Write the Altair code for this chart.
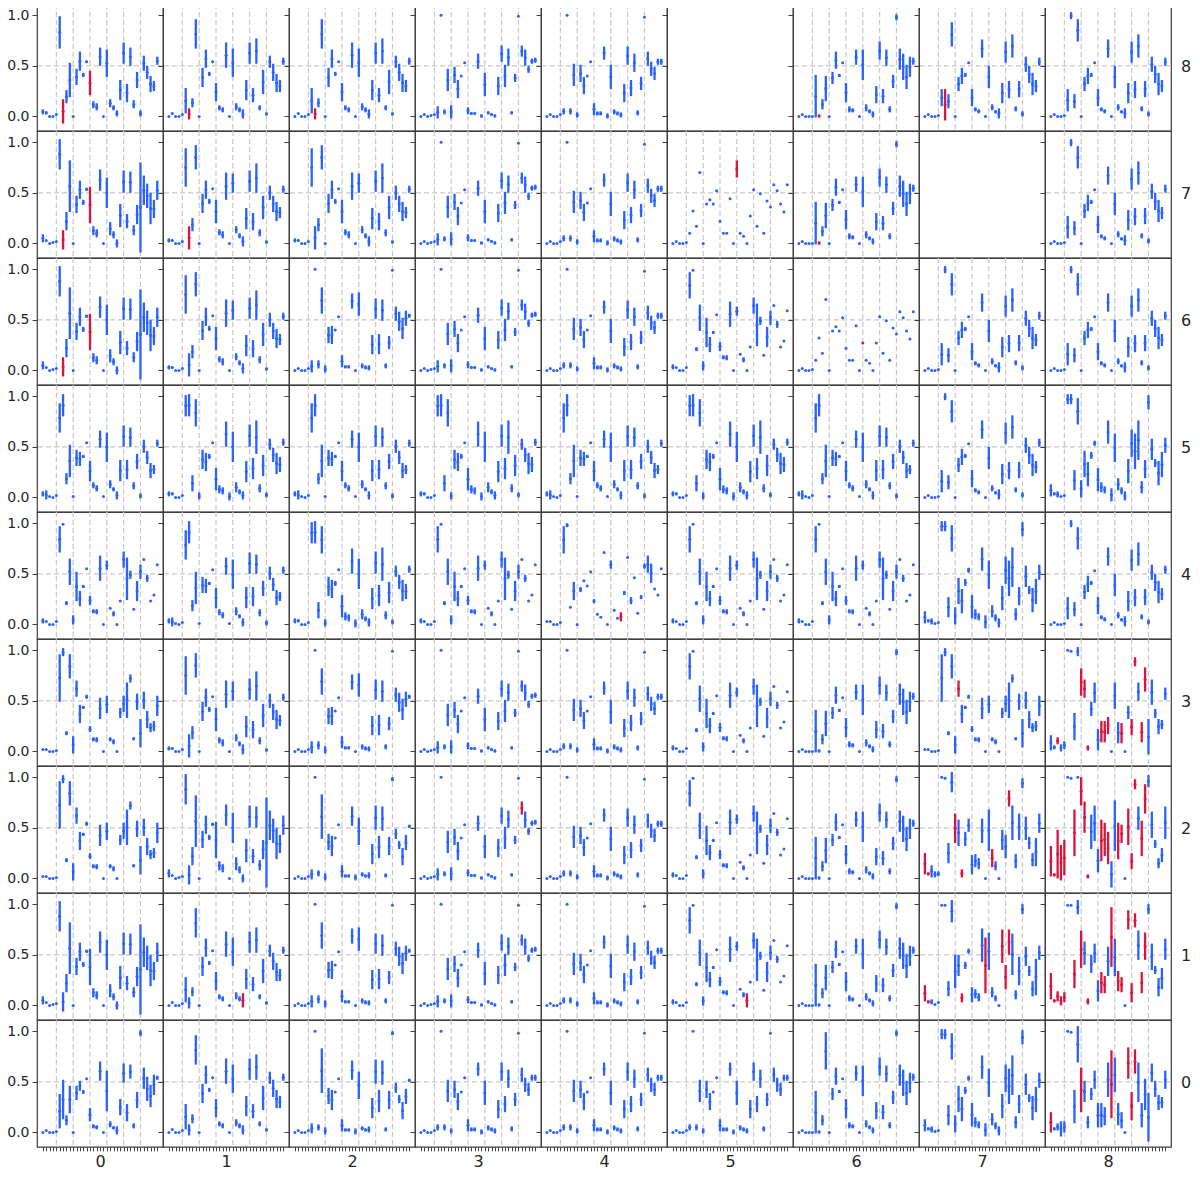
import altair as alt
import pandas as pd

# ---- values (35 positions per panel) ----
# token: "v" = single point, "a:b" = range, prefix "r" = red range
P00 = "0 .02 0 0 .01 .04:.38 .13:.52 .07:.17 .19:.46 0 .32:.46 .41:.51 .38:.42 .53 .11:.24 .04:.08 .03:.07 .51:.70 0 .21:.61 .05:.11 .03:.06 -.02:.06 .17:.33 .49:.68 .11:.28 .53:.67 .04:.09 .24:.40 .95:1.01 .43:.64 .31:.55 .25:.47 .37:.57 .52:.56"
P80 = ".02:.07 .02:.05 0 0 .02 .67:.99 r-.07:.17 .13:.26 .19:.53 0 .31:.47 .45:.64 .39:.43 .53:.55 r.21:.45 .08:.15 .06:.13 .50:.68 0 .39:.66 .09:.17 .06:.11 0:.06 .16:.36 .52:.73 .14:.32 .50:.68 .08:.16 .28:.44 0:.06 .45:.60 .37:.50 .24:.40 .25:.35 .51:.59"
P81 = "0 .03 0 0 .02 .03:.28 r-.03:.08 .09:.18 .67:.96 0 .29:.48 .48:.66 .40:.44 .54 .15:.33 .06:.11 .04:.09 .48:.73 0 .39:.67 .06:.13 .04:.09 -.02:.07 .16:.36 .52:.73 .14:.28 .52:.77 .06:.11 .22:.46 .01:.04 .48:.60 .35:.52 .24:.42 .24:.36 .51:.58"
P70 = ".01:.09 .03 0 .01 .02 .73:1.03 r-.06:.13 .13:.31 .31:.82 0 .30:.47 .44:.62 .38:.43 .52:.55 r.20:.56 .08:.17 .06:.14 .52:.73 0 .35:.65 .08:.21 .05:.12 -.04:.04 .16:.39 .50:.72 .15:.29 .50:.71 .08:.18 .19:.38 -.09:.80 .38:.67 .35:.59 .19:.50 .25:.43 .43:.62"
P71 = ".01:.05 .02:.04 0 0 .02 .56:.94 r-.06:.17 .12:.25 .73:.97 0 .30:.49 .44:.62 .39:.44 .54 .20:.43 .08:.14 .05:.12 .43:.70 0 .50:.69 .10:.17 .05:.10 -.03:.07 .14:.35 .51:.72 .13:.30 .50:.79 .07:.14 .24:.47 0:.03 .43:.57 .31:.47 .22:.41 .25:.36 .50:.57"
P17 = "r.04:.20 r.02:.05 .01:.06 .01 .03 .99 .99 .09:.24 .82:1.04 .17:.50 .29:.50 r.03:.12 .36:.43 .51:.56 .03:.18 .07:.16 .04:.12 .43:.76 r.12:.67 .35:.72 .08:.18 .04:.10 0 r.42:.75 r.16:.40 r.50:.75 .30:.71 .06:.15 .20:.48 .90:1.0 .39:.58 .29:.39 .09:.24 .10:.46 .45:.59"
P18 = "r.06:.32 r.03:.06 r.04:.14 r0:.09 r.03:.13 .99 .99 r.17:.45 .90:1.04 r.37:.74 .40:.63 r.01:.07 .32:.50 .42:.61 .04:.25 r.12:.33 r.12:.29 .29:.58 r.38:.97 .29:.66 r.14:.34 r.13:.28 0 r.75:.94 r.03:.22 r.77:.91 .45:.74 r.12:.33 r.45:.72 .90:1.0 .35:.61 .31:.39 .09:.27 .16:.37 .45:.66"
P07 = ".01:.13 .02:.05 0:.06 .01 .02 .92:1.02 .92:1.02 .07:.27 .72:.98 0:.17 .20:.46 .11:.35 .38:.45 .51:.56 .06:.29 .05:.15 .04:.11 .53:.76 -.04:.09 .35:.63 .07:.19 .03:.10 -.03:.06 .14:.38 .40:.67 .28:.63 .37:.76 .04:.16 .19:.37 .87:1.01 .37:.58 .30:.38 .12:.36 .20:.45 .44:.59"
P08 = "r0:.20 .02:.05 .02:.09 -.04:.11 0:.11 1.0 .99 .09:.42 .69:1.05 r.20:.64 .30:.51 .04:.16 .32:.44 .43:.61 .05:.29 .05:.29 .07:.25 .35:.69 r.14:.81 .40:.74 .07:.29 .04:.20 0 r.53:.84 r.12:.40 r.58:.82 .30:.69 .05:.29 .22:.53 -.09:.39 .50:.68 .35:.51 .22:.37 .24:.35 .43:.61"
P37 = ".02 .02 0 0 .01 .49:.96 .94:1.02 .16:.20 .72:.96 -.02:.15 r.54:.70 .28:.46 .42:.45 .52:.56 .19:.25 .10:.14 .09:.14 .32:.53 0 .38:.55 .10:.14 .07:.12 0 .33:.43 .39:.55 .33:.68 .68:.76 .11:.14 .41:.57 .04:.32 .42:.59 .23:.40 .19:.28 .20:.30 .35:.55"
P38 = ".01:.16 .02:.06 r.07:.14 0:.07 .02:.10 1.0 .99 .11:.38 .94:1.03 r.55:.82 r.53:.71 r.01:.06 .35:.49 .48:.68 .01:.22 r.09:.30 r.09:.30 r.17:.34 0 .42:.68 .08:.29 r.08:.28 0 .32:.45 r.16:.32 r.84:.93 .50:.68 r.09:.29 r.59:.83 -.03:.32 .46:.71 .33:.42 .17:.32 .22:.31 .51:.63"
P27 = "r.04:.25 r.03:.06 .01:.13 .01:.07 .02:.07 1.0 .99 .15:.35 .85:1.05 r.35:.64 .32:.58 r.01:.09 .32:.46 .46:.59 .04:.23 .11:.24 .09:.20 .35:.59 0 .27:.68 r.11:.29 .08:.17 0 .28:.48 .20:.43 r.71:.87 .38:.72 .10:.24 .38:.64 .89:.99 .38:.61 .29:.41 .12:.25 .12:.40 .45:.64"
P28 = "r.02:.32 r.02:.05 r0:.48 r-.02:.33 r.03:.38 1.0 .99 r.22:.68 1.0 r.72:1.0 r.45:.76 r0:.04 .29:.63 .37:.72 .06:.29 r.17:.58 r.22:.55 r.14:.46 -.09:.17 .27:.77 r.19:.55 r.35:.53 0 r.33:.69 r.09:.25 r.88:.98 .48:.71 r.22:.57 r.64:.93 .90:1.02 .40:.66 .30:.38 .10:.20 .16:.30 .39:.71"
P54 = ".01:.06 -.02:.07 .01 0 .02 .64:.93 .80:1.02 .13:.24 .20:.52 .01 .31:.47 .31:.45 .39:.42 .54 .16:.36 .09:.15 .06:.12 .49:.66 .01 .35:.64 .09:.17 .06:.10 -.02:.06 .16:.37 .50:.71 .18:.37 .50:.69 .08:.15 .28:.43 -.01:.04 .44:.57 .33:.46 .19:.34 .23:.32 .50:.57"
P55 = ".01:.06 .02:.05 0 0 .02 .80:1.01 .80:1.02 .06:.22 .70:.97 -.02:.05 .28:.47 .26:.44 .38:.43 .54 .07:.29 .04:.12 .03:.10 .50:.75 -.03:.05 .35:.65 .05:.15 .03:.08 -.02:.06 .15:.36 .50:.72 .18:.39 .43:.76 .05:.13 .21:.42 0:.05 .47:.58 .35:.49 .23:.44 .25:.40 .51:.58"
P44 = ".03 .03 0 0 .02 .70:.97 .96:1.0 .17 .24:.42 0 .32:.37 .43 .38 .52 .21:.25 .10 .07 .71 0 .55:.63 .14 .06 r.03:.12 .29:.33 .66 .20:.27 .46 .11 .25:.29 .55:.60 .51:.68 .41:.60 .35 .29 .55"
P45 = ".01:.06 .03 0 0 .03 .71:.97 .99 .19:.23 .39:.65 0:.09 .23:.52 .18:.33 .36:.39 .55 .19:.28 .11:.15 .10:.15 .43:.68 0 .54:.63 .16 .08:.13 0 .23 .56:.72 .24:.66 .45:.53 .15 .23:.43 .45:.59 .64 .42:.49 .23 .29 .59"
P12 = "0 .02 0 0 .02 -.02:.10 1.0 .02:.10 .56:.82 -.02:.05 .27:.43 .26:.44 .40 .53 .03:.15 .02:.05 .02:.05 .61:.76 0 .54:.77 .02:.07 .01:.05 0:.05 .16:.35 .51:.71 .16:.36 .49:.70 .02:.07 .21:.34 .99 .49:.63 .39:.58 .31:.52 .44:.59 .52:.56"
P13 = "0 .02 0 .01 .02 -.02:.10 1.0 .02:.07 .25:.47 -.02:.11 .33:.49 .18:.36 .40 .53 .02:.09 .02:.04 .02:.04 .47:.62 -.01:.02 .20:.43 .02:.05 .01:.03 -.01:.02 .21:.39 .54:.70 .29:.51 .50:.67 .02:.05 .34:.42 .99 .59:.70 .50:.66 .43:.50 .52:.57 .53:.58"
P02 = "0 .02 0 0 .02 -.01:.09 1.0 .02:.08 .39:.83 -.02:.05 .28:.44 .22:.42 .40 .53 .01:.13 .01:.04 .01:.04 .52:.71 -.02:.04 .33:.60 .02:.06 .01:.04 0:.06 .14:.34 .48:.72 .20:.42 .47:.71 .01:.05 .23:.41 .96:1.0 .39:.49 .29:.37 .13:.30 .28:.43 .50:.53"
P03 = "0 .02 0 0 .02 .02:.08 1.0 .02:.08 .30:.52 -.01:.04 .34:.51 .22:.39 .40 .54 .01:.13 .01:.05 .01:.05 .56:.69 -.02:.03 .27:.51 .02:.07 .01:.05 -.01:.04 .14:.32 .51:.69 .20:.36 .44:.62 .01:.06 .26:.39 .98 .50:.64 .40:.54 .36:.49 .51:.57 .51:.57"
P76 = "0 .02 0 0 0 -.01:.41 r-.01:.02 .07:.17 .15:.40 0 .32:.44 .47:.64 .39:.42 .53 .14:.33 .04:.10 .04:.08 .51:.66 0 .36:.66 .05:.12 .03:.07 -.01:.05 .13:.30 .56:.74 .13:.27 .50:.66 .04:.10 .28:.41 .95:1.01 .46:.67 .36:.62 .27:.51 .39:.59 .51:.58"
P66 = "0 .02 0 0 .01 .10 .32 .17 .70 0 .39 .43 .39 .52 .22 .10 .10 .44 0 r.27 .10 .07 0 .27 .53 .17 .49 .10 .42 .36 .58 .52 .39 .31 .58"
P67 = "0 .02 0 0 .01 .05:.27 .96:1.03 .08:.22 .74:.96 0 .25:.39 .32:.48 .39:.43 .53 .10:.27 .05:.09 .03:.07 .58:.76 0 .28:.50 .06:.12 .03:.06 -.02:.08 .13:.33 .53:.74 .18:.35 .58:.81 .05:.10 .19:.35 0:.05 .44:.59 .33:.50 .21:.43 .24:.36 .50:.58"

PANELS = {
    (0, 0): P00, (8, 0): P80, (8, 1): P81, (7, 0): P70, (7, 1): P71,
    (1, 7): P17, (1, 8): P18, (0, 7): P07, (0, 8): P08,
    (3, 7): P37, (3, 8): P38, (2, 7): P27, (2, 8): P28,
    (5, 4): P54, (5, 5): P55, (4, 4): P44, (4, 5): P45,
    (1, 2): P12, (1, 3): P13, (0, 2): P02, (0, 3): P03,
    (7, 6): P76, (6, 6): P66, (6, 7): P67,
}
# panels not read one by one: closest read panel
SOURCE = {
    (8, 2): P81, (8, 3): P13, (8, 4): P03, (8, 6): P76, (8, 7): P67, (8, 8): P67,
    (7, 2): P71, (7, 3): P13, (7, 4): P03, (7, 5): P66, (7, 8): P67,
    (6, 0): P70, (6, 1): P71, (6, 2): P12, (6, 3): P13, (6, 4): P03, (6, 5): P45, (6, 8): P67,
    (5, 0): P54, (5, 1): P55, (5, 2): P54, (5, 3): P55, (5, 6): P54, (5, 7): P67, (5, 8): P07,
    (4, 0): P45, (4, 1): P54, (4, 2): P55, (4, 3): P45, (4, 6): P45, (4, 7): P07, (4, 8): P67,
    (3, 0): P37, (3, 1): P71, (3, 2): P12, (3, 3): P13, (3, 4): P03, (3, 5): P45, (3, 6): P76,
    (2, 0): P37, (2, 1): P70, (2, 2): P02, (2, 3): P13, (2, 4): P03, (2, 5): P45, (2, 6): P76,
    (1, 0): P70, (1, 1): P81, (1, 4): P03, (1, 5): P45, (1, 6): P76,
    (0, 1): P81, (0, 4): P03, (0, 5): P03, (0, 6): P76,
}
# "b" = same range drawn blue
OVERRIDE = {
    (8, 7): {5: ".10:.27", 6: "r-.04:.27", 8: ".69:.93"},
    (7, 2): {6: "b"}, (7, 5): {19: "r.65:.82"},
    (6, 1): {6: "b"}, (3, 0): {10: "b"}, (3, 1): {6: "b"}, (3, 6): {6: "b"},
    (2, 0): {10: "b"}, (2, 1): {6: "b", 14: "b"}, (2, 3): {30: "r.63:.76"}, (2, 6): {6: "b"},
    (1, 0): {6: "b", 14: "b"}, (1, 1): {6: "b", 22: "r-.02:.12"}, (1, 5): {22: "r-.02:.12"},
    (1, 6): {6: "b"}, (0, 1): {6: "b"}, (0, 6): {6: "b", 8: ".62:.99"},
}
EMPTY = [(8, 5), (7, 7)]
ROWS = [8, 7, 6, 5, 4, 3, 2, 1, 0]
COLS = [0, 1, 2, 3, 4, 5, 6, 7, 8]
N = 35
GRID_X = [4, 9, 14, 19, 24, 29]
GRID_Y = [0.5]
Y_TICKS = [0.0, 0.5, 1.0]

BLUE = "#2a62ff"
RED = "#dc143c"
GRID = "#c8c8c8"
INK = "#262626"
FRAME = "#3d3d3d"
W, H = 126.0, 126.8


def tokens(r, c):
    toks = (PANELS.get((r, c)) or SOURCE[(r, c)]).split()
    for i, v in OVERRIDE.get((r, c), {}).items():
        toks[i] = toks[i].lstrip("r") if v == "b" else v
    return toks


def table(toks):
    rows = []
    for i, t in enumerate(toks):
        red = t.startswith("r")
        t = t.lstrip("r")
        if ":" in t:
            a, b = (float(s) for s in t.split(":"))
        else:
            a = b = float(t)
        lo, hi = min(a, b), max(a, b)
        rows.append({"idx": i, "lo": lo, "hi": hi, "mid": (lo + hi) / 2,
                     "col": RED if red else BLUE})
    return pd.DataFrame(rows)


xs = alt.Scale(domain=[-1.75, 35.7], nice=False, zero=False)
ys = alt.Scale(domain=[-0.142, 1.11], nice=False, zero=False)


def panel(r, c):
    if r == 0:
        xax = alt.Axis(values=list(range(N)), labels=False, tickSize=4, domain=False,
                       grid=False, title=str(c), titleFontSize=16, titlePadding=2,
                       titleFontWeight="normal")
    else:
        xax = None
    yax = alt.Axis(values=Y_TICKS, format=".1f", labels=(c == 0), tickSize=5,
                   domain=False, grid=False, title=None, labelFontSize=14, labelPadding=3)

    def X(f):
        return alt.X(f, type="quantitative", scale=xs, axis=xax)

    def Y(f):
        return alt.Y(f, type="quantitative", scale=ys, axis=yax)

    layers = []
    if (r, c) in EMPTY:
        layers.append(alt.Chart(pd.DataFrame({"gx": [0.0], "gy": [0.0]}))
                      .mark_point(opacity=0).encode(x=X("gx"), y=Y("gy")))
    else:
        df = table(tokens(r, c))
        layers.append(alt.Chart(pd.DataFrame({"gx": GRID_X}))
                      .mark_rule(color=GRID, strokeDash=[5, 3], strokeWidth=1.2)
                      .encode(x=X("gx")))
        layers.append(alt.Chart(pd.DataFrame({"gy": GRID_Y}))
                      .mark_rule(color=GRID, strokeDash=[5, 3], strokeWidth=1.2)
                      .encode(y=Y("gy")))
        layers.append(alt.Chart(df).mark_rule(strokeWidth=2.3)
                      .encode(x=X("idx"), y=Y("lo"), y2="hi",
                              color=alt.Color("col:N", scale=None)))
        layers.append(alt.Chart(df).mark_circle(size=9, opacity=1)
                      .encode(x=X("idx"), y=Y("mid"),
                              color=alt.Color("col:N", scale=None)))
    if c == 8:
        layers.append(alt.Chart(pd.DataFrame({"t": [str(r)]}))
                      .mark_text(fontSize=16, align="center", baseline="middle",
                                 color=INK, font="DejaVu Sans")
                      .encode(x=alt.value(W + 15), y=alt.value(H / 2), text="t:N"))
    return alt.layer(*layers).properties(width=W, height=H)


panels = [panel(r, c) for r in ROWS for c in COLS]
chart = (
    alt.concat(*panels, columns=9, spacing=0, bounds="flush")
    .properties(padding={"left": -2, "top": -6, "right": 0, "bottom": 0})
    .configure_view(stroke=FRAME, strokeWidth=1.2)
    .configure_axis(tickColor=FRAME, labelColor=INK, titleColor=INK,
                    labelFont="DejaVu Sans", titleFont="DejaVu Sans", tickWidth=1)
)
chart.save("out.html", embed_options={"renderer": "svg", "actions": False})
